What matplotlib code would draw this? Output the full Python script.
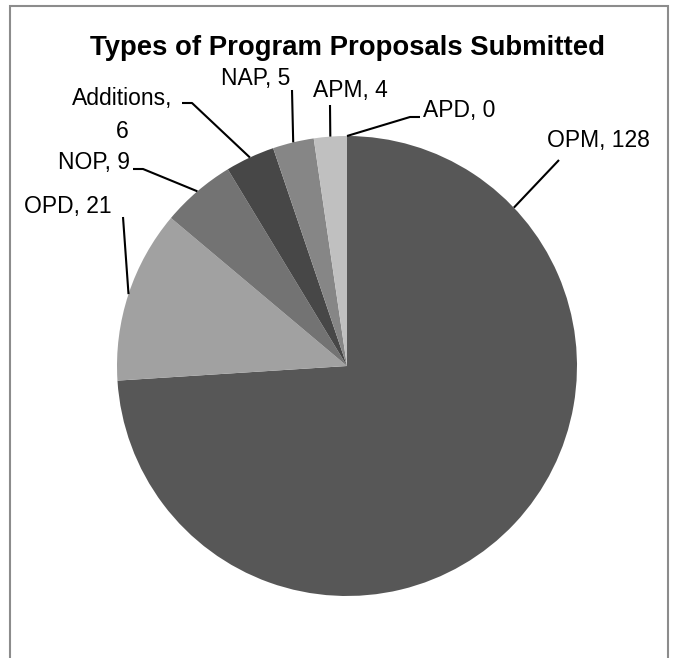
import numpy as np
import matplotlib.pyplot as plt
from matplotlib.patches import Rectangle

plt.rcParams['font.family'] = ['Liberation Sans', 'DejaVu Sans']

# data (clockwise from 12 o'clock)
labels = ['OPM', 'OPD', 'NOP', 'Additions', 'NAP', 'APM', 'APD']
values = [128, 21, 9, 6, 5, 4, 0]
colors = ['#575757', '#a1a1a1', '#737373', '#474747', '#868686', '#c0c0c0', '#d9d9d9']

W, H = 683, 658
cx, cy, r = 347, H - 366, 230

fig = plt.figure(figsize=(W / 100, H / 100), dpi=100)
ax = fig.add_axes([0, 0, 1, 1])
ax.pie(values, colors=colors, startangle=90, counterclock=False,
       center=(cx, cy), radius=r, wedgeprops=dict(linewidth=0))
ax.set_xlim(0, W)
ax.set_ylim(0, H)
ax.set_aspect('equal')
ax.axis('off')

# chart border
fig.patches.append(Rectangle((10 / W, -0.05), 658 / W, (H - 6) / H + 0.05,
                             transform=fig.transFigure, fill=False,
                             edgecolor='#8c8c8c', linewidth=1.5))

ax.text(cx + 1, H - 48, 'Types of Program Proposals Submitted', ha='center', va='center',
        fontsize=19.8, fontweight='bold')

# mid angle of each wedge (degrees, standard orientation)
total = float(sum(values))
cum = np.cumsum([0] + values)
mid = 90 - (cum[:-1] + np.array(values) / 2.0) / total * 360
# excel hooks the big slice's leader on its upper side
mid[0] = 43.5

# label layout: text pos, ha, and leader points after the wedge edge (pixel coords)
layout = {
    'OPM': ((547, 140), 'left', [(559, 160)]),
    'OPD': ((68, 207), 'center', [(123, 217)]),
    'NOP': ((130, 163), 'right', [(143, 169), (133, 169)]),
    'Additions': ((122, 115), 'center', [(192, 103), (182, 103)]),
    'NAP': ((290, 79), 'right', [(292, 90)]),
    'APM': ((350, 91), 'center', [(330, 105)]),
    'APD': ((423, 110), 'left', [(410, 117), (420, 117)]),
}

for lab, val, ang in zip(labels, values, mid):
    (tx, ty), ha, pts = layout[lab]
    ex = cx + r * np.cos(np.radians(ang))
    ey = cy + r * np.sin(np.radians(ang))
    xs = [ex] + [p[0] for p in pts]
    ys = [ey] + [H - p[1] for p in pts]
    ax.plot(xs, ys, color='black', linewidth=1.5, solid_capstyle='butt')
    txt = '%s, %d' % (lab, val)
    if lab == 'Additions':
        txt = '%s,\n%d' % (lab, val)
    ax.text(tx, H - ty, txt, ha=ha, va='center', fontsize=16.5,
            multialignment='center', linespacing=1.55)

fig.savefig('out.png', dpi=100)
